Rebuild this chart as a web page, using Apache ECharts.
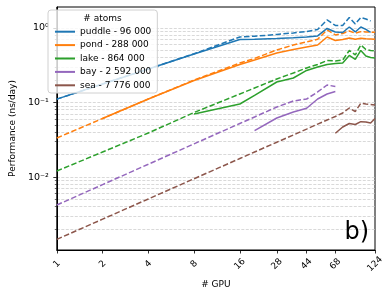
<!DOCTYPE html>
<html><head><meta charset="utf-8">
<script src="https://cdn.jsdelivr.net/npm/echarts@6/dist/echarts.min.js"></script>
<style>html,body{margin:0;padding:0;background:#fff}#c{width:391px;height:295px}</style>
</head><body><div id="c"></div>
<script>
// GPU counts (x)
const gpus = [1, 2, 4, 8, 16, 20, 28, 36, 44, 52, 60, 68, 76, 84, 92, 100, 108, 116, 124];

// Performance (ns/day) – solid (measured) and dashed series
const puddleSolid  = [0.111, 0.177, 0.282, 0.448, 0.700, 0.705, 0.723, 0.741, 0.757, 0.781, 0.985, 0.884, 0.870, 1.031, 0.884, 1.031, 0.955, 0.870, null];
const puddleDashed = [0.111, 0.177, 0.282, 0.450, 0.757, 0.774, 0.818, 0.857, 0.897, 0.955, 1.281, 1.080, 1.080, 1.383, 1.131, 1.383, 1.321, 1.241, null];
const pondSolid    = [null, 0.0610, 0.1114, 0.1974, 0.3236, 0.372, 0.462, 0.515, 0.556, 0.591, 0.757, 0.680, 0.701, 0.734, 0.705, 0.727, 0.716, 0.712, 0.705];
const pondDashed   = [0.0334, 0.0610, 0.1114, 0.200, 0.339, 0.390, 0.507, 0.591, 0.649, 0.705, 0.940, 0.806, 0.844, 0.911, 0.849, 0.892, 0.884, 0.878, 0.875];
const lakeSolid    = [null, null, null, 0.0701, 0.0954, 0.1249, 0.1884, 0.2132, 0.2689, 0.2996, 0.3236, 0.3339, 0.339, 0.4274, 0.3778, 0.4989, 0.4209, 0.4018, 0.3957];
const lakeDashed   = [0.01204, 0.02166, 0.03897, 0.0734, 0.130, 0.1565, 0.2067, 0.2489, 0.2905, 0.3236, 0.3662, 0.3606, 0.372, 0.4989, 0.4341, 0.591, 0.5146, 0.4989, 0.4912];
const baySolid     = [null, null, null, null, null, 0.04183, 0.0619, 0.0746, 0.0836, 0.1114, 0.130, 0.1405, null, null, null, null, null, null, null];
const bayDashed    = [0.00421, 0.00791, 0.01485, 0.0279, 0.0523, 0.0639, 0.0870, 0.1047, 0.1114, 0.1384, 0.1717, 0.1640, null, null, null, null, null, null, null];
const seaSolid     = [null, null, null, null, null, null, null, null, null, null, null, 0.03861, 0.0469, 0.0523, 0.0507, 0.0553, 0.0547, 0.0531, 0.0610];
const seaDashed    = [0.001458, 0.002721, 0.005082, 0.009489, 0.01771, 0.02166, 0.02932, 0.03663, 0.04395, 0.05129, 0.05822, 0.06488, 0.07228, 0.08437, 0.07569, 0.09756, 0.0954, 0.0940, 0.0926];

const seriesNames = ['puddle - 96 000', 'pond - 288 000', 'lake - 864 000', 'bay - 2 592 000', 'sea - 7 776 000'];
const seriesColors = ['#1f77b4', '#ff7f0e', '#2ca02c', '#9467bd', '#8c564b'];
const solidSets = [puddleSolid, pondSolid, lakeSolid, baySolid, seaSolid];
const dashedSets = [puddleDashed, pondDashed, lakeDashed, bayDashed, seaDashed];

// Tick labels
const xTickValues = [1, 2, 4, 8, 16, 28, 44, 68, 124];
const xTickLabels = ['1', '2', '4', '8', '16', '28', '44', '68', '124'];
const yMajorValues = [0.01, 0.1, 1];
const yMajorLabels = ['10\u207B\u00B2', '10\u207B\u00B9', '10\u2070'];
const yMinorValues = [0.002, 0.003, 0.004, 0.005, 0.006, 0.007, 0.008, 0.009,
                      0.02, 0.03, 0.04, 0.05, 0.06, 0.07, 0.08, 0.09,
                      0.2, 0.3, 0.4, 0.5, 0.6, 0.7, 0.8, 0.9];

function pairs(vals) {
  const out = [];
  vals.forEach((v, i) => { if (v !== null) out.push([gpus[i], v]); });
  return out;
}

const FONT = 'DejaVu Sans';
const series = [];
seriesNames.forEach((name, i) => {
  series.push({
    name: name, type: 'line', data: pairs(solidSets[i]), symbol: 'none', z: 3,
    color: seriesColors[i],
    lineStyle: { width: 1.5, color: seriesColors[i] }
  });
  series.push({
    name: name, type: 'line', data: pairs(dashedSets[i]), symbol: 'none', z: 2,
    color: seriesColors[i],
    lineStyle: { width: 1.5, color: seriesColors[i], type: [5.5, 2.4] }
  });
});

const gridLine = { show: true, lineStyle: { color: '#cfcfcf', width: 0.8, type: [3, 1.5] } };

const chart = echarts.init(document.getElementById('c'), null, { renderer: 'canvas' });
chart.setOption({
  animation: false,
  backgroundColor: '#fff',
  grid: { left: 47, right: 16, top: 7, bottom: 45, show: true, borderColor: '#000', borderWidth: 1, backgroundColor: 'transparent' },
  xAxis: {
    type: 'log', logBase: 2, min: 1, max: 124,
    name: '# GPU', nameLocation: 'middle', nameGap: 27,
    nameTextStyle: { fontFamily: FONT, fontSize: 9, color: '#000' },
    axisLine: { show: true, lineStyle: { color: '#000', width: 1 } },
    axisTick: { show: true, length: 3.5, lineStyle: { color: '#000', width: 0.8 }, customValues: xTickValues },
    axisLabel: {
      customValues: xTickValues, rotate: 45, align: 'center', verticalAlign: 'middle', margin: 14,
      fontFamily: FONT, fontSize: 9, color: '#000',
      formatter: v => xTickLabels[xTickValues.indexOf(Math.round(v))] || ''
    },
    splitLine: { show: false }, minorTick: { show: false }
  },
  yAxis: [{
    type: 'log', logBase: 10, min: 0.00105, max: 1.91,
    name: 'Performance (ns/day)', nameLocation: 'middle', nameGap: 34,
    nameTextStyle: { fontFamily: FONT, fontSize: 9, color: '#000' },
    axisLine: { show: true, lineStyle: { color: '#000', width: 1 } },
    axisTick: { show: true, length: 3.5, lineStyle: { color: '#000', width: 0.8 }, customValues: yMajorValues },
    axisLabel: {
      customValues: yMajorValues, margin: 8, fontFamily: FONT, fontSize: 9.5, color: '#000',
      formatter: v => { const k = yMajorValues.findIndex(t => Math.abs(t - v) / t < 1e-6); return k >= 0 ? yMajorLabels[k] : ''; }
    },
    splitLine: gridLine
  }, {
    type: 'log', logBase: 10, min: 0.00105, max: 1.91, position: 'left', offset: 0,
    axisLine: { show: false },
    axisTick: { show: true, length: 2, lineStyle: { color: '#000', width: 0.6 }, customValues: yMinorValues },
    axisLabel: { show: false },
    splitLine: gridLine
  }],
  legend: {
    left: 48, top: 10, orient: 'vertical',
    data: seriesNames,
    icon: 'rect', itemWidth: 20, itemHeight: 2, itemGap: 0,
    padding: [15, 6, 1, 7],
    backgroundColor: 'rgba(255,255,255,0.8)', borderColor: '#d0d0d0', borderWidth: 1, borderRadius: 3,
    textStyle: { fontFamily: FONT, fontSize: 9, color: '#000', lineHeight: 13.4 },
    selectedMode: false
  },
  graphic: [
    { type: 'text', x: 102.5, y: 19, z: 100,
      style: { text: '# atoms', fontFamily: FONT, fontSize: 9, fill: '#000', align: 'center', verticalAlign: 'middle' } },
    { type: 'text', x: 369, y: 233, z: 100,
      style: { text: 'b)', fontFamily: FONT, fontSize: 24, fill: '#000', align: 'right', verticalAlign: 'middle' } }
  ],
  series: series
});
</script>
</body></html>
